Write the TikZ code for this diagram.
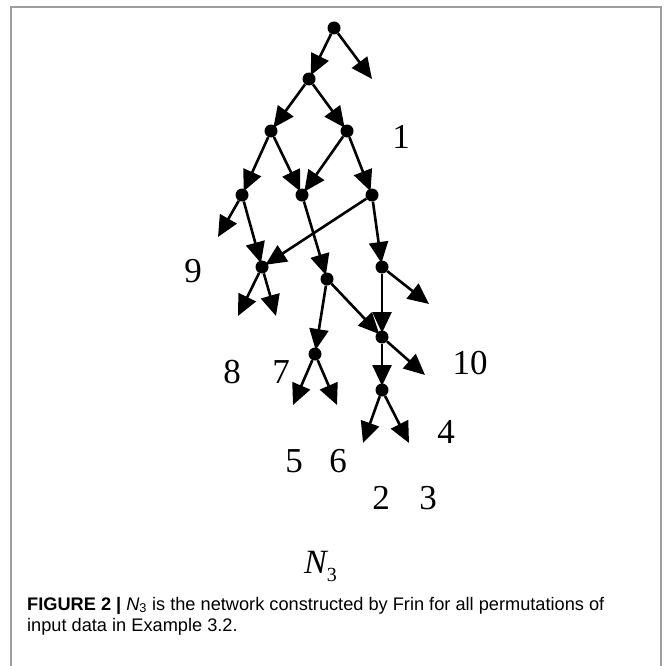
\documentclass[tikz,border=0pt]{standalone}
\usepackage{fontspec}
\setmainfont{Liberation Serif}
\newfontfamily\capfont{Liberation Sans}
\usetikzlibrary{arrows.meta}
\begin{document}
\begin{tikzpicture}[x=1pt,y=-1pt,
  dot/.style={circle,fill=black,inner sep=0pt,minimum size=13pt},
  edge/.style={line width=2.6pt,-{Triangle[length=21pt,width=19pt]}},
  inedge/.style={edge,shorten >=4pt},
  lab/.style={font=\fontsize{35}{40}\selectfont,inner sep=0pt},
  frame/.style={draw=black!38,line width=1.6pt}]
\useasboundingbox (0,0) rectangle (664,666);
\draw[frame] (11,666) -- (11,7) -- (661,7) -- (661,666);
% nodes
\node[dot] (r) at (334,28) {};
\node[dot] (n1) at (309,79) {};
\node[dot] (n2) at (271,131) {};
\node[dot] (n3) at (347,131) {};
\node[dot] (a) at (242,195) {};
\node[dot] (b) at (302,195) {};
\node[dot] (c) at (372,195) {};
\node[dot] (d) at (262,267) {};
\node[dot] (e) at (327,279) {};
\node[dot] (f) at (382,267) {};
\node[dot] (g) at (315,354) {};
\node[dot] (h) at (382,337) {};
\node[dot] (i) at (382,390) {};
% free ends
\coordinate (t0) at (372,79);
\coordinate (ta) at (218,237);
\coordinate (td1) at (238,316);
\coordinate (td2) at (276,316);
\coordinate (tf) at (429,304);
\coordinate (th) at (425,375);
\coordinate (tg1) at (293,405);
\coordinate (tg2) at (337,405);
\coordinate (ti1) at (363,443);
\coordinate (ti2) at (409,443);
% edges into nodes
\draw[inedge] (r) -- (n1.center);
\draw[inedge] (n1) -- (n2.center);
\draw[inedge] (n1) -- (n3.center);
\draw[inedge] (n2) -- (a.center);
\draw[inedge] (n2) -- (b.center);
\draw[inedge] (n3) -- (b.center);
\draw[inedge] (n3) -- (c.center);
\draw[inedge] (a) -- (d.center);
\draw[inedge] (c) -- (d.center);
\draw[inedge] (b) -- (e.center);
\draw[inedge] (c) -- (f.center);
\draw[inedge] (f) -- (h.center);
\draw[inedge] (e) -- (h.center);
\draw[inedge] (e) -- (g.center);
\draw[inedge] (h) -- (i.center);
% dangling edges
\draw[edge] (r) -- (t0);
\draw[edge] (a) -- (ta);
\draw[edge] (d) -- (td1);
\draw[edge] (d) -- (td2);
\draw[edge] (f) -- (tf);
\draw[edge] (g) -- (tg1);
\draw[edge] (g) -- (tg2);
\draw[edge] (h) -- (th);
\draw[edge] (i) -- (ti1);
\draw[edge] (i) -- (ti2);
% labels
\node[lab] (l1) at (401,137) {1};
\node[lab] (l9) at (193,271) {9};
\node[lab] (l8) at (232,372) {8};
\node[lab] (l7) at (281,372) {7};
\node[lab] (l10) at (470,363) {10};
\node[lab] (l4) at (446,432) {4};
\node[lab] (l5) at (294,461) {5};
\node[lab] (l6) at (338,461) {6};
\node[lab] (l2) at (381,498) {2};
\node[lab] (l3) at (428,498) {3};
\node[anchor=base west,inner sep=0pt] (n3lab) at (304,573)
  {\fontsize{34}{40}\selectfont\itshape N\raisebox{-8pt}{\upshape\fontsize{20}{24}\selectfont 3}};
% caption
\node[anchor=base west,inner sep=0pt,font=\capfont\fontsize{18.2}{21}\selectfont,align=left] (cap) at (27,631)
  {\textbf{FIGURE 2 |} \textit{N}\textsubscript{3} is the network constructed by Frin for all permutations of\\input data in Example 3.2.};
\end{tikzpicture}
\end{document}
